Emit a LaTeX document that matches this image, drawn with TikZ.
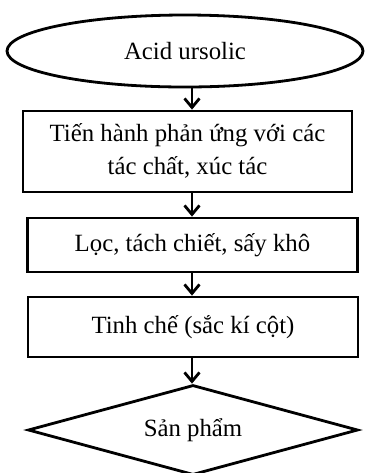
\documentclass[tikz,border=0pt]{standalone}
\usepackage{fontspec}
\setmainfont{Liberation Serif}
\usetikzlibrary{shapes.geometric,arrows.meta}
\begin{document}
\begin{tikzpicture}[x=0.5pt,y=-0.5pt,line width=1.4pt,>={Straight Barb[length=4.5pt,width=7.5pt]},
	font=\fontsize{12.4}{16.5}\selectfont,
	stepbox/.style={draw,rectangle,inner sep=0pt,align=center,minimum width=165pt}]
	\useasboundingbox (0,0) rectangle (366,473);
	\node [draw,ellipse,inner sep=0pt,minimum width=178pt,minimum height=36pt] (acid) at (185,51) {Acid ursolic};
	\node [stepbox,minimum width=164.5pt,minimum height=40.5pt,text depth=2pt] (react) at (187.5,151.5) {Tiến hành phản ứng với các\\tác chất, xúc tác};
	\node [stepbox,minimum height=27pt] (filter) at (192.5,245) {Lọc, tách chiết, sấy khô};
	\node [stepbox,minimum height=30pt] (purify) at (193,327) {Tinh chế (sắc kí cột)};
	\node [draw,diamond,shape aspect=3.67,inner sep=0pt,minimum width=165pt,minimum height=45pt] (product) at (193,430) {Sản phẩm};

	\coordinate (axis) at (192,0);
	\foreach \from/\to in {acid/react,react/filter,filter/purify,purify/product}
		\draw [->] (\from.south -| axis) -- (\to.north -| axis);
\end{tikzpicture}
\end{document}
